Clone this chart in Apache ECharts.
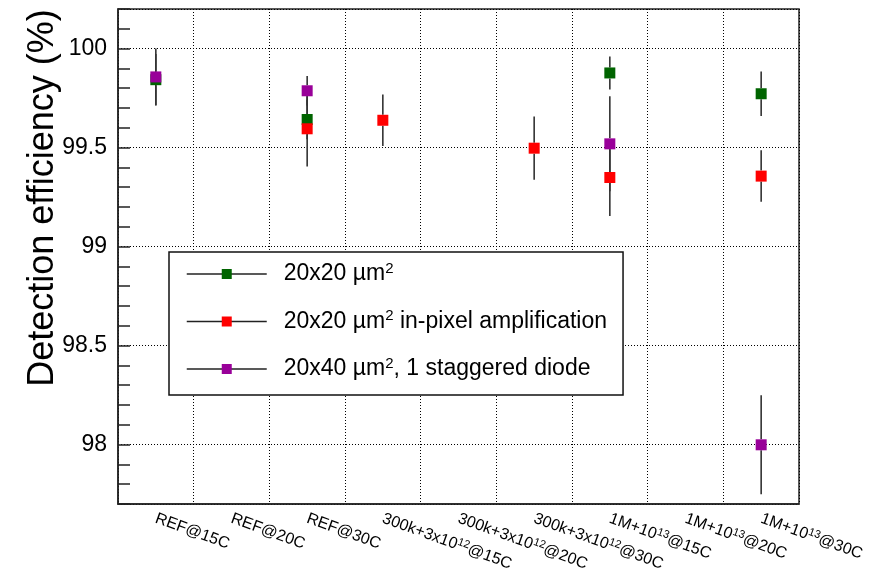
<!DOCTYPE html>
<html><head><meta charset="utf-8">
<script src="https://cdn.jsdelivr.net/npm/echarts@6/dist/echarts.min.js"></script>
<style>html,body{margin:0;padding:0;background:#fff}#c{width:877px;height:577px}</style>
</head><body><div id="c"></div>
<script>
const categories = ['REF@15C','REF@20C','REF@30C','300k+3x10¹²@15C','300k+3x10¹²@20C','300k+3x10¹²@30C','1M+10¹³@15C','1M+10¹³@20C','1M+10¹³@30C'];
const seriesNames = ['20x20 µm²', '20x20 µm² in-pixel amplification', '20x40 µm², 1 staggered diode'];
const greenValues  = [99.843, null, 99.642, null, null, null, 99.877, null, 99.772];
const greenErrors  = [0.13,   null, 0.10,   null, null, null, 0.083,  null, 0.112];
const redValues    = [null, null, 99.595, 99.638, null, 99.497, 99.349, null, 99.356];
const redErrors    = [null, null, 0.19,   0.13,   null, 0.16,   0.195,  null, 0.13];
const purpleValues = [99.857, null, 99.787, null, null, null, 99.519, null, 97.999];
const purpleErrors = [0.143,  null, 0.075,  null, null, null, 0.24,   null, 0.25];
const yMajorTicks = [98, 98.5, 99, 99.5, 100];
const yTitle = 'Detection efficiency (%)';

const FONT = '"Liberation Sans", Arial, Helvetica, sans-serif';
const colors = ['#006400', '#ff0000', '#990099'];
const MARK = 11;

function supRich(s) {
  return s.replace('¹²', '{s|12}').replace('¹³', '{s|13}').replace('²', '{s|2}');
}
function errData(vals, errs) {
  const out = [];
  vals.forEach((v, i) => { if (v !== null) out.push([i, v, errs[i]]); });
  return out;
}
function renderErr(params, api) {
  const x = api.value(0), v = api.value(1), e = api.value(2);
  const c = api.coord([x, v]);
  const t = api.coord([x, v + e]);
  const b = api.coord([x, v - e]);
  const h = MARK / 2;
  const st = { stroke: '#333', lineWidth: 1.6 };
  const kids = [];
  if (c[1] - h > t[1]) kids.push({ type: 'line', shape: { x1: c[0], y1: t[1], x2: c[0], y2: c[1] - h }, style: st });
  if (b[1] > c[1] + h) kids.push({ type: 'line', shape: { x1: c[0], y1: c[1] + h, x2: c[0], y2: b[1] }, style: st });
  return { type: 'group', children: kids };
}
function markSeries(name, vals, color) {
  return {
    name: name, type: 'line', data: vals, xAxisIndex: 0, yAxisIndex: 0,
    symbol: 'rect', symbolSize: MARK, showSymbol: true, showAllSymbol: true,
    connectNulls: false, silent: true,
    itemStyle: { color: color, borderWidth: 0 },
    lineStyle: { width: 0, opacity: 0 },
    emphasis: { disabled: true }
  };
}
function errSeries(name, vals, errs) {
  return {
    name: name, type: 'custom', xAxisIndex: 0, yAxisIndex: 0, silent: true,
    data: errData(vals, errs), encode: { x: 0, y: 1 }, renderItem: renderErr
  };
}

const chart = echarts.init(document.getElementById('c'), null, { renderer: 'canvas' });
chart.setOption({
  animation: false,
  backgroundColor: '#fff',
  grid: { left: 118, top: 9, right: 78, bottom: 73, show: true, borderColor: '#222', borderWidth: 1.5, outerBoundsMode: 'none', containLabel: false },
  xAxis: {
    type: 'category', data: categories, boundaryGap: true,
    axisLine: { lineStyle: { color: '#222', width: 1.5 } },
    axisTick: { inside: true, length: 11, interval: 0, lineStyle: { color: '#222', width: 1.5 } },
    axisLabel: { rotate: -20, fontSize: 16, lineHeight: 18, margin: 14, color: '#000', interval: 0, fontFamily: FONT,
      formatter: v => supRich(v),
      rich: { s: { fontSize: 11, lineHeight: 11, verticalAlign: 'top', fontFamily: FONT, color: '#000' } } },
    splitLine: { show: true, interval: 0, lineStyle: { type: [1, 2], color: '#000', width: 1 } }
  },
  yAxis: [
    {
      type: 'value', min: 97.7, max: 100.2, splitNumber: 5,
      axisLine: { show: true, lineStyle: { color: '#222', width: 1.5 } },
      axisTick: { inside: true, length: 22, lineStyle: { color: '#222', width: 1.5 } },
      axisLabel: { fontSize: 23, margin: 11, color: '#000', fontFamily: FONT,
        formatter: v => { const m = yMajorTicks.find(t => Math.abs(t - v) < 1e-6); return m === undefined ? '' : String(m); } },
      splitLine: { show: true, lineStyle: { type: [1, 2], color: '#000', width: 1 } }
    },
    {
      type: 'value', min: 97.7, max: 100.2, interval: 0.1, position: 'left',
      axisLine: { show: false }, axisLabel: { show: false }, splitLine: { show: false },
      axisTick: { show: true, inside: true, length: 12, lineStyle: { color: '#222', width: 1.5 } }
    }
  ],
  legend: {
    data: seriesNames, orient: 'vertical', left: 169, top: 252,
    padding: [9, 16, 13, 17], itemGap: 21.5, itemWidth: 80, itemHeight: 12.5,
    borderColor: '#111', borderWidth: 1.5, backgroundColor: '#fff',
    selectedMode: false,
    formatter: name => supRich(name),
    textStyle: { fontSize: 23, lineHeight: 26, color: '#000', fontFamily: FONT, padding: [0, 0, 0, 12],
      rich: { s: { fontSize: 15, lineHeight: 15, verticalAlign: 'top', fontFamily: FONT, color: '#000' } } },
    lineStyle: { color: '#222', width: 1.5, opacity: 1, type: 'solid' },
    itemStyle: { borderWidth: 0 }
  },
  graphic: [{
    type: 'text', x: 43, y: 198, rotation: Math.PI / 2, silent: true,
    style: { text: yTitle, font: '36px ' + FONT, fill: '#000', textAlign: 'center', textVerticalAlign: 'middle' }
  }],
  series: [
    markSeries(seriesNames[0], greenValues, colors[0]),
    errSeries('err0', greenValues, greenErrors),
    markSeries(seriesNames[1], redValues, colors[1]),
    errSeries('err1', redValues, redErrors),
    markSeries(seriesNames[2], purpleValues, colors[2]),
    errSeries('err2', purpleValues, purpleErrors)
  ]
});
</script></body></html>
